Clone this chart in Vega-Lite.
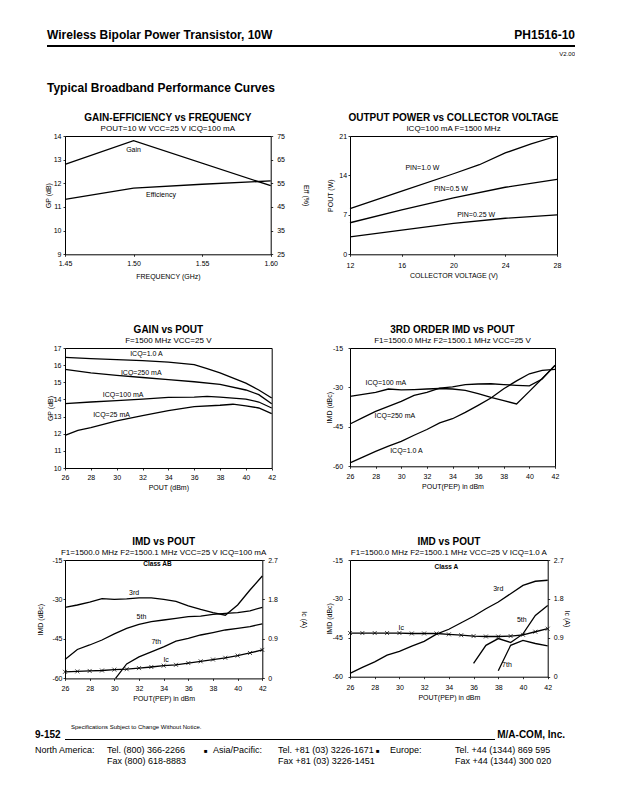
{
"$schema": "https://vega.github.io/schema/vega-lite/v6.json",
"padding": {"left": 35, "top": 0, "right": 0, "bottom": 0},
"background": "white",
"bounds": "flush",
"columns": 4,
"align": "each",
"spacing": {"row": 0, "column": 0},
"concat": [
{"width":12,"height":45,"data":{"values":[]},"mark":"point","view":{"stroke":null}},
{"width":0.001,"height":0.001,"data":{"values":[]},"mark":"point","view":{"stroke":null}},
{"width":0.001,"height":0.001,"data":{"values":[]},"mark":"point","view":{"stroke":null}},
{"width":0.001,"height":0.001,"data":{"values":[]},"mark":"point","view":{"stroke":null}},

{"width":0.001,"height":0.001,"data":{"values":[]},"mark":"point","view":{"stroke":null}},
{"width":18,"height":2,"data":{"values":[]},"mark":"point","view":{"stroke":null,"fill":"#000"},"title":{"text":"Wireless Bipolar Power Transistor, 10W","anchor":"start","fontSize":12,"fontWeight":"bold","offset":3}},
{"width":285,"height":2,"data":{"values":[]},"mark":"point","view":{"stroke":null,"fill":"#000"}},
{"width":225,"height":2,"data":{"values":[]},"mark":"point","view":{"stroke":null,"fill":"#000"},"title":{"text":"PH1516-10","anchor":"end","fontSize":12,"fontWeight":"bold","offset":3}},

{"width":0.001,"height":0.001,"data":{"values":[]},"mark":"point","view":{"stroke":null}},
{"width":18,"height":28,"data":{"values":[]},"mark":"point","view":{"stroke":null},"title":{"text":"Typical Broadband Performance Curves","orient":"bottom","anchor":"start","fontSize":12,"fontWeight":"bold","offset":7.8}},
{"width":0.001,"height":0.001,"data":{"values":[]},"mark":"point","view":{"stroke":null}},
{"width":225,"height":1,"data":{"values":[]},"mark":"point","view":{"stroke":null},"title":{"text":"V2.00","orient":"bottom","anchor":"end","fontSize":6,"fontWeight":"normal","offset":3.4}},

{"width":0.001,"height":60.7,"data":{"values":[]},"mark":"point","view":{"stroke":null}},
{"width":0.001,"height":0.001,"data":{"values":[]},"mark":"point","view":{"stroke":null}},
{"width":0.001,"height":0.001,"data":{"values":[]},"mark":"point","view":{"stroke":null}},
{"width":0.001,"height":0.001,"data":{"values":[]},"mark":"point","view":{"stroke":null}},

{"width":0.001,"height":0.001,"data":{"values":[]},"mark":"point","view":{"stroke":null}},
{"width":0.001,"height":0.001,"data":{"values":[]},"mark":"point","view":{"stroke":null}},
{"width":205.7,"height":118.3,
 "title":{"text":"GAIN-EFFICIENCY vs FREQUENCY","subtitle":"POUT=10 W  VCC=25 V  ICQ=100 mA"},
 "layer":[
  {"layer":[
   {"data":{"name":"gain_freq"},"mark":"line","encoding":{
     "x":{"field":"freq","type":"quantitative","scale":{"domain":[1.45,1.6],"nice":false,"zero":false},"axis":{"values":[1.45,1.5,1.55,1.6],"tickCount":50,"format":".2f","title":"FREQUENCY (GHz)","labelPadding":3.3,"titlePadding":5.7,"labelOverlap":false}},
     "y":{"field":"gain","type":"quantitative","scale":{"domain":[9,14],"nice":false,"zero":false},"axis":{"values":[9,10,11,12,13,14],"tickCount":50,"format":"d","title":"GP (dB)","labelPadding":2,"titlePadding":1.6,"labelOverlap":false}}}},
   {"data":{"name":"gf_labels"},"mark":"text","encoding":{
     "x":{"field":"freq","type":"quantitative"},
     "y":{"field":"gain","type":"quantitative"},
     "text":{"field":"label"}}}
  ]},
  {"data":{"name":"eff_freq"},"mark":"line","encoding":{
    "x":{"field":"freq","type":"quantitative"},
    "y":{"field":"eff","type":"quantitative","scale":{"domain":[25,75],"nice":false,"zero":false},"axis":{"orient":"right","values":[25,35,45,55,65,75],"tickCount":50,"format":"d","title":"Eff (%)","labelPadding":4,"titlePadding":18,"labelOverlap":false}}}}
 ],
 "resolve":{"scale":{"y":"independent"}}},
{"width":207,"height":118.3,
 "title":{"text":"OUTPUT POWER vs COLLECTOR VOLTAGE","subtitle":"ICQ=100 mA  F=1500 MHz"},
 "layer":[
  {"data":{"name":"op"},"mark":"line","encoding":{
    "x":{"field":"vcc","type":"quantitative","scale":{"domain":[12,28],"nice":false,"zero":false},"axis":{"values":[12,16,20,24,28],"tickCount":50,"format":"d","title":"COLLECTOR VOLTAGE (V)","labelPadding":5.3,"titlePadding":3,"labelOverlap":false}},
    "y":{"field":"pout","type":"quantitative","scale":{"domain":[0,21],"nice":false},"axis":{"values":[0,7,14,21],"tickCount":50,"format":"d","title":"POUT (W)","labelPadding":1.4,"titlePadding":5.5,"labelOverlap":false}},
    "detail":{"field":"pin"}}},
  {"data":{"name":"op_labels"},"mark":"text","encoding":{
    "x":{"field":"vcc","type":"quantitative"},
    "y":{"field":"pout","type":"quantitative"},
    "text":{"field":"label"}}}
 ]},

{"width":0.001,"height":92.7,"data":{"values":[]},"mark":"point","view":{"stroke":null}},
{"width":0.001,"height":0.001,"data":{"values":[]},"mark":"point","view":{"stroke":null}},
{"width":0.001,"height":0.001,"data":{"values":[]},"mark":"point","view":{"stroke":null}},
{"width":0.001,"height":0.001,"data":{"values":[]},"mark":"point","view":{"stroke":null}},

{"width":0.001,"height":0.001,"data":{"values":[]},"mark":"point","view":{"stroke":null}},
{"width":0.001,"height":0.001,"data":{"values":[]},"mark":"point","view":{"stroke":null}},
{"width":206.7,"height":120,
 "title":{"text":"GAIN vs POUT","subtitle":"F=1500 MHz  VCC=25 V"},
 "layer":[
  {"data":{"name":"gp"},"mark":"line","encoding":{
    "x":{"field":"pout","type":"quantitative","scale":{"domain":[26,42],"nice":false,"zero":false},"axis":{"values":[26,28,30,32,34,36,38,40,42],"tickCount":50,"format":"d","title":"POUT (dBm)","labelPadding":3.3,"titlePadding":3,"labelOverlap":false}},
    "y":{"field":"gp","type":"quantitative","scale":{"domain":[10,17],"nice":false,"zero":false},"axis":{"values":[10,11,12,13,14,15,16,17],"tickCount":50,"format":"d","title":"GP (dB)","labelPadding":2,"titlePadding":0,"labelOverlap":false}},
    "detail":{"field":"icq"}}},
  {"data":{"name":"gp_labels"},"mark":"text","encoding":{
    "x":{"field":"pout","type":"quantitative"},
    "y":{"field":"gp","type":"quantitative"},
    "text":{"field":"label"}}}
 ]},
{"width":205,"height":118.3,
 "title":{"text":"3RD ORDER IMD vs POUT","subtitle":"F1=1500.0 MHz  F2=1500.1 MHz  VCC=25 V"},
 "layer":[
  {"data":{"name":"imd3"},"mark":"line","encoding":{
    "x":{"field":"pout","type":"quantitative","scale":{"domain":[26,42],"nice":false,"zero":false},"axis":{"values":[26,28,30,32,34,36,38,40,42],"tickCount":50,"format":"d","title":"POUT(PEP) in dBm","labelPadding":4.3,"titlePadding":3,"labelOverlap":false}},
    "y":{"field":"imd","type":"quantitative","scale":{"domain":[-60,-15],"nice":false,"zero":false},"axis":{"values":[-60,-45,-30,-15],"tickCount":50,"labelExpr":"'' + datum.value","title":"IMD (dBc)","labelPadding":5.4,"titlePadding":0,"labelOverlap":false}},
    "detail":{"field":"icq"}}},
  {"data":{"name":"imd3_labels"},"mark":"text","encoding":{
    "x":{"field":"pout","type":"quantitative"},
    "y":{"field":"imd","type":"quantitative"},
    "text":{"field":"label"}}}
 ]},

{"width":0.001,"height":91.6,"data":{"values":[]},"mark":"point","view":{"stroke":null}},
{"width":0.001,"height":0.001,"data":{"values":[]},"mark":"point","view":{"stroke":null}},
{"width":0.001,"height":0.001,"data":{"values":[]},"mark":"point","view":{"stroke":null}},
{"width":0.001,"height":0.001,"data":{"values":[]},"mark":"point","view":{"stroke":null}},

{"width":0.001,"height":0.001,"data":{"values":[]},"mark":"point","view":{"stroke":null}},
{"width":0.001,"height":0.001,"data":{"values":[]},"mark":"point","view":{"stroke":null}},
{"width":197.3,"height":118.4,
 "title":{"text":"IMD vs POUT","subtitle":"F1=1500.0 MHz  F2=1500.1 MHz  VCC=25 V  ICQ=100 mA"},
 "layer":[
  {"layer":[
   {"data":{"name":"ab_imd"},"mark":"line","encoding":{
     "x":{"field":"pout","type":"quantitative","scale":{"domain":[26,42],"nice":false,"zero":false},"axis":{"values":[26,28,30,32,34,36,38,40,42],"tickCount":50,"format":"d","title":"POUT(PEP) in dBm","labelPadding":4.3,"titlePadding":3,"labelOverlap":false}},
     "y":{"field":"imd","type":"quantitative","scale":{"domain":[-60,-15],"nice":false,"zero":false},"axis":{"values":[-60,-45,-30,-15],"tickCount":50,"labelExpr":"'' + datum.value","title":"IMD (dBc)","labelPadding":1,"titlePadding":8.6,"labelOverlap":false}},
     "detail":{"field":"order"}}},
   {"data":{"name":"ab_labels"},"mark":"text","encoding":{
     "x":{"field":"pout","type":"quantitative"},
     "y":{"field":"imd","type":"quantitative"},
     "text":{"field":"label"}}},
   {"data":{"values":[{}]},"mark":{"type":"text","fontWeight":"bold","fontSize":6.5},"encoding":{
     "x":{"datum":33.5,"type":"quantitative"},
     "y":{"datum":-16.7,"type":"quantitative"},
     "text":{"value":"Class AB"}}}
  ]},
  {"data":{"name":"ab_ic"},"mark":{"type":"line","point":{"shape":"M-1,-1L1,1M-1,1L1,-1","filled":false,"size":16,"color":"#000","strokeWidth":0.7}},"encoding":{
    "x":{"field":"pout","type":"quantitative"},
    "y":{"field":"ic","type":"quantitative","scale":{"domain":[0,2.7],"nice":false},"axis":{"orient":"right","values":[0,0.9,1.8,2.7],"tickCount":50,"labelExpr":"datum.value == 0 ? '0' : format(datum.value, '.1f')","title":"Ic (A)","labelPadding":3.4,"titlePadding":23,"labelOverlap":false}}}}
 ],
 "resolve":{"scale":{"y":"independent"}}},
{"width":197.7,"height":116.7,
 "title":{"text":"IMD vs POUT","subtitle":"F1=1500.0 MHz  F2=1500.1 MHz  VCC=25 V  ICQ=1.0 A"},
 "layer":[
  {"layer":[
   {"data":{"name":"a_imd"},"mark":"line","encoding":{
     "x":{"field":"pout","type":"quantitative","scale":{"domain":[26,42],"nice":false,"zero":false},"axis":{"values":[26,28,30,32,34,36,38,40,42],"tickCount":50,"format":"d","title":"POUT(PEP) in dBm","labelPadding":4.3,"titlePadding":3.7,"labelOverlap":false}},
     "y":{"field":"imd","type":"quantitative","scale":{"domain":[-60,-15],"nice":false,"zero":false},"axis":{"values":[-60,-45,-30,-15],"tickCount":50,"labelExpr":"'' + datum.value","title":"IMD (dBc)","labelPadding":5.6,"titlePadding":0,"labelOverlap":false}},
     "detail":{"field":"order"}}},
   {"data":{"name":"a_labels"},"mark":"text","encoding":{
     "x":{"field":"pout","type":"quantitative"},
     "y":{"field":"imd","type":"quantitative"},
     "text":{"field":"label"}}},
   {"data":{"values":[{}]},"mark":{"type":"text","fontWeight":"bold","fontSize":6.5},"encoding":{
     "x":{"datum":33.8,"type":"quantitative"},
     "y":{"datum":-17.8,"type":"quantitative"},
     "text":{"value":"Class A"}}}
  ]},
  {"data":{"name":"a_ic"},"mark":{"type":"line","point":{"shape":"M-1,-1L1,1M-1,1L1,-1","filled":false,"size":16,"color":"#000","strokeWidth":0.7}},"encoding":{
    "x":{"field":"pout","type":"quantitative"},
    "y":{"field":"ic","type":"quantitative","scale":{"domain":[0,2.7],"nice":false},"axis":{"orient":"right","values":[0,0.9,1.8,2.7],"tickCount":50,"labelExpr":"datum.value == 0 ? '0' : format(datum.value, '.1f')","title":"Ic (A)","labelPadding":3.6,"titlePadding":0,"labelOverlap":false}}}}
 ],
 "resolve":{"scale":{"y":"independent"}}},

{"width":0.001,"height":60,"data":{"values":[]},"mark":"point","view":{"stroke":null}},
{"width":0.001,"height":0.001,"data":{"values":[]},"mark":"point","view":{"stroke":null}},
{"width":0.001,"height":0.001,"data":{"values":[]},"mark":"point","view":{"stroke":null}},
{"width":0.001,"height":0.001,"data":{"values":[]},"mark":"point","view":{"stroke":null}},

{"width":12,"height":1,"data":{"values":[]},"mark":"point","view":{"stroke":null},"title":{"text":"9-152","anchor":"start","fontSize":10,"fontWeight":"bold","offset":-1}},
{"width":0.001,"height":0.001,"data":{"values":[]},"mark":"point","view":{"stroke":null}},
{"width":285,"height":1,"data":{"values":[]},"mark":"point","view":{"stroke":null,"fill":"#000"},"title":{"text":"Specifications Subject to Change Without Notice.","anchor":"start","fontSize":6,"fontWeight":"normal","offset":9.3,"dx":6}},
{"width":145,"height":1,"data":{"values":[]},"mark":"point","view":{"stroke":null,"fill":"#000"},"title":{"text":"M/A-COM, Inc.","anchor":"end","fontSize":10,"fontWeight":"bold","offset":-1,"dx":70}},

{"width":12,"height":0.001,"data":{"values":[]},"mark":"point","view":{"stroke":null},"title":{"text":"North America:","orient":"bottom","anchor":"start","fontSize":9,"fontWeight":"normal","offset":6.4}},
{"width":0.001,"height":0.001,"data":{"values":[]},"mark":"point","view":{"stroke":null}},
{"width":285,"height":0.001,"data":{"values":[]},"mark":"point","view":{"stroke":null},"title":{"text":"Tel. (800) 366-2266","subtitle":"Fax (800) 618-8883","orient":"bottom","anchor":"start","fontSize":9,"fontWeight":"normal","subtitleFontSize":9,"subtitlePadding":2,"offset":6.4,"dx":42}},
{"width":225,"height":0.001,"data":{"values":[]},"mark":"point","view":{"stroke":null},"title":{"text":"■","orient":"bottom","anchor":"start","fontSize":6,"fontWeight":"normal","offset":7.9,"dx":26}},

{"width":0.001,"height":0.001,"data":{"values":[]},"mark":"point","view":{"stroke":null}},
{"width":0.001,"height":0.001,"data":{"values":[]},"mark":"point","view":{"stroke":null}},
{"width":285,"height":0.001,"data":{"values":[]},"mark":"point","view":{"stroke":null},"title":{"text":"■","orient":"bottom","anchor":"start","fontSize":6,"fontWeight":"normal","offset":6.9,"dx":139}},
{"width":225,"height":0.001,"data":{"values":[]},"mark":"point","view":{"stroke":null},"title":{"text":"Europe:","orient":"bottom","anchor":"start","fontSize":9,"fontWeight":"normal","offset":5.4,"dx":40}},

{"width":0.001,"height":0.001,"data":{"values":[]},"mark":"point","view":{"stroke":null}},
{"width":0.001,"height":0.001,"data":{"values":[]},"mark":"point","view":{"stroke":null}},
{"width":285,"height":0.001,"data":{"values":[]},"mark":"point","view":{"stroke":null},"title":{"text":"Asia/Pacific:","orient":"bottom","anchor":"start","fontSize":9,"fontWeight":"normal","offset":4.4,"dx":148}},
{"width":225,"height":0.001,"data":{"values":[]},"mark":"point","view":{"stroke":null},"title":{"text":"Tel. +44 (1344) 869 595","subtitle":"Fax +44 (1344) 300 020","orient":"bottom","anchor":"start","fontSize":9,"fontWeight":"normal","subtitleFontSize":9,"subtitlePadding":2,"offset":4.4,"dx":105}},

{"width":0.001,"height":0.001,"data":{"values":[]},"mark":"point","view":{"stroke":null}},
{"width":0.001,"height":0.001,"data":{"values":[]},"mark":"point","view":{"stroke":null}},
{"width":285,"height":0.001,"data":{"values":[]},"mark":"point","view":{"stroke":null},"title":{"text":"Tel. +81 (03) 3226-1671","subtitle":"Fax +81 (03) 3226-1451","orient":"bottom","anchor":"start","fontSize":9,"fontWeight":"normal","subtitleFontSize":9,"subtitlePadding":2,"offset":3.4,"dx":213}},
{"width":0.001,"height":0.001,"data":{"values":[]},"mark":"point","view":{"stroke":null}}
],
"datasets": {
 "gain_freq": [{"freq":1.45,"gain":12.8},{"freq":1.5,"gain":13.8},{"freq":1.6,"gain":11.9}],
 "eff_freq": [{"freq":1.45,"eff":48.2},{"freq":1.5,"eff":53},{"freq":1.55,"eff":54.6},{"freq":1.6,"eff":56}],
 "gf_labels": [{"freq":1.5,"gain":13.42,"label":"Gain"},{"freq":1.52,"gain":11.49,"label":"Efficiency"}],
 "op": [
  {"vcc":12,"pout":8.1,"pin":"1.0 W"},{"vcc":16,"pout":11.2,"pin":"1.0 W"},{"vcc":20,"pout":14.3,"pin":"1.0 W"},{"vcc":22,"pout":15.9,"pin":"1.0 W"},{"vcc":24,"pout":18.0,"pin":"1.0 W"},{"vcc":26,"pout":19.6,"pin":"1.0 W"},{"vcc":28,"pout":21,"pin":"1.0 W"},
  {"vcc":12,"pout":5.6,"pin":"0.5 W"},{"vcc":16,"pout":7.9,"pin":"0.5 W"},{"vcc":20,"pout":10.0,"pin":"0.5 W"},{"vcc":24,"pout":11.9,"pin":"0.5 W"},{"vcc":28,"pout":13.3,"pin":"0.5 W"},
  {"vcc":12,"pout":3.1,"pin":"0.25 W"},{"vcc":16,"pout":4.3,"pin":"0.25 W"},{"vcc":20,"pout":5.5,"pin":"0.25 W"},{"vcc":24,"pout":6.4,"pin":"0.25 W"},{"vcc":28,"pout":7.0,"pin":"0.25 W"}
 ],
 "op_labels": [{"vcc":17.6,"pout":15.3,"label":"PIN=1.0 W"},{"vcc":19.8,"pout":11.65,"label":"PIN=0.5 W"},{"vcc":21.75,"pout":7.0,"label":"PIN=0.25 W"}],
 "gp": [
  {"pout":26,"gp":16.45,"icq":"1.0 A"},{"pout":28,"gp":16.38,"icq":"1.0 A"},{"pout":30,"gp":16.32,"icq":"1.0 A"},{"pout":32,"gp":16.26,"icq":"1.0 A"},{"pout":34,"gp":16.18,"icq":"1.0 A"},{"pout":36,"gp":16.03,"icq":"1.0 A"},{"pout":37,"gp":15.8,"icq":"1.0 A"},{"pout":38,"gp":15.55,"icq":"1.0 A"},{"pout":40,"gp":14.95,"icq":"1.0 A"},{"pout":41,"gp":14.55,"icq":"1.0 A"},{"pout":42,"gp":14.08,"icq":"1.0 A"},
  {"pout":26,"gp":15.75,"icq":"250 mA"},{"pout":28,"gp":15.55,"icq":"250 mA"},{"pout":30,"gp":15.4,"icq":"250 mA"},{"pout":32,"gp":15.28,"icq":"250 mA"},{"pout":34,"gp":15.15,"icq":"250 mA"},{"pout":36,"gp":15.03,"icq":"250 mA"},{"pout":38,"gp":14.88,"icq":"250 mA"},{"pout":40,"gp":14.55,"icq":"250 mA"},{"pout":41,"gp":14.28,"icq":"250 mA"},{"pout":42,"gp":13.75,"icq":"250 mA"},
  {"pout":26,"gp":13.75,"icq":"100 mA"},{"pout":28,"gp":13.85,"icq":"100 mA"},{"pout":30,"gp":13.93,"icq":"100 mA"},{"pout":32,"gp":14.02,"icq":"100 mA"},{"pout":34,"gp":14.12,"icq":"100 mA"},{"pout":36,"gp":14.13,"icq":"100 mA"},{"pout":37,"gp":14.18,"icq":"100 mA"},{"pout":38,"gp":14.14,"icq":"100 mA"},{"pout":40,"gp":14.02,"icq":"100 mA"},{"pout":41,"gp":13.85,"icq":"100 mA"},{"pout":42,"gp":13.5,"icq":"100 mA"},
  {"pout":26,"gp":11.9,"icq":"25 mA"},{"pout":27,"gp":12.2,"icq":"25 mA"},{"pout":28,"gp":12.35,"icq":"25 mA"},{"pout":30,"gp":12.75,"icq":"25 mA"},{"pout":32,"gp":13.05,"icq":"25 mA"},{"pout":34,"gp":13.35,"icq":"25 mA"},{"pout":36,"gp":13.58,"icq":"25 mA"},{"pout":38,"gp":13.66,"icq":"25 mA"},{"pout":39,"gp":13.72,"icq":"25 mA"},{"pout":40,"gp":13.63,"icq":"25 mA"},{"pout":41,"gp":13.5,"icq":"25 mA"},{"pout":42,"gp":13.17,"icq":"25 mA"}
 ],
 "gp_labels": [{"pout":32.3,"gp":16.65,"label":"ICQ=1.0 A"},{"pout":31.9,"gp":15.54,"label":"ICQ=250 mA"},{"pout":30.5,"gp":14.24,"label":"ICQ=100 mA"},{"pout":29.6,"gp":13.1,"label":"ICQ=25 mA"}],
 "imd3": [
  {"pout":26,"imd":-33.4,"icq":"100 mA"},{"pout":27,"imd":-32.6,"icq":"100 mA"},{"pout":28,"imd":-31.9,"icq":"100 mA"},{"pout":29,"imd":-30.6,"icq":"100 mA"},{"pout":30,"imd":-30.9,"icq":"100 mA"},{"pout":31,"imd":-30.8,"icq":"100 mA"},{"pout":32,"imd":-30.6,"icq":"100 mA"},{"pout":33,"imd":-30.4,"icq":"100 mA"},{"pout":34,"imd":-30.6,"icq":"100 mA"},{"pout":35,"imd":-31.1,"icq":"100 mA"},{"pout":36,"imd":-32.4,"icq":"100 mA"},{"pout":37,"imd":-33.8,"icq":"100 mA"},{"pout":38,"imd":-35,"icq":"100 mA"},{"pout":39,"imd":-36.3,"icq":"100 mA"},{"pout":40,"imd":-31.5,"icq":"100 mA"},{"pout":41,"imd":-26.6,"icq":"100 mA"},{"pout":42,"imd":-21.7,"icq":"100 mA"},
  {"pout":26,"imd":-43.9,"icq":"250 mA"},{"pout":27,"imd":-41.5,"icq":"250 mA"},{"pout":28,"imd":-39.1,"icq":"250 mA"},{"pout":29,"imd":-37.2,"icq":"250 mA"},{"pout":30,"imd":-35.3,"icq":"250 mA"},{"pout":31,"imd":-33,"icq":"250 mA"},{"pout":32,"imd":-31.9,"icq":"250 mA"},{"pout":33,"imd":-30.3,"icq":"250 mA"},{"pout":34,"imd":-29.8,"icq":"250 mA"},{"pout":35,"imd":-28.9,"icq":"250 mA"},{"pout":36,"imd":-28.7,"icq":"250 mA"},{"pout":37,"imd":-28.6,"icq":"250 mA"},{"pout":38,"imd":-28.9,"icq":"250 mA"},{"pout":39,"imd":-29.2,"icq":"250 mA"},{"pout":40,"imd":-29.4,"icq":"250 mA"},{"pout":41,"imd":-26.8,"icq":"250 mA"},{"pout":42,"imd":-21.5,"icq":"250 mA"},
  {"pout":26,"imd":-58.7,"icq":"1.0 A"},{"pout":27,"imd":-56.5,"icq":"1.0 A"},{"pout":28,"imd":-54.3,"icq":"1.0 A"},{"pout":29,"imd":-52.3,"icq":"1.0 A"},{"pout":30,"imd":-50.5,"icq":"1.0 A"},{"pout":31,"imd":-48.2,"icq":"1.0 A"},{"pout":32,"imd":-46,"icq":"1.0 A"},{"pout":33,"imd":-43.5,"icq":"1.0 A"},{"pout":34,"imd":-41.9,"icq":"1.0 A"},{"pout":35,"imd":-39.5,"icq":"1.0 A"},{"pout":36,"imd":-36.8,"icq":"1.0 A"},{"pout":37,"imd":-34,"icq":"1.0 A"},{"pout":38,"imd":-30.5,"icq":"1.0 A"},{"pout":39,"imd":-27.5,"icq":"1.0 A"},{"pout":40,"imd":-24.8,"icq":"1.0 A"},{"pout":41,"imd":-23.5,"icq":"1.0 A"},{"pout":42,"imd":-23.1,"icq":"1.0 A"}
 ],
 "imd3_labels": [{"pout":28.8,"imd":-28.3,"label":"ICQ=100 mA"},{"pout":29.5,"imd":-41,"label":"ICQ=250 mA"},{"pout":30.4,"imd":-54.3,"label":"ICQ=1.0 A"}],
 "ab_imd": [
  {"pout":26,"imd":-33,"order":"3rd"},{"pout":27,"imd":-32.1,"order":"3rd"},{"pout":28,"imd":-31,"order":"3rd"},{"pout":29,"imd":-29.7,"order":"3rd"},{"pout":30,"imd":-30,"order":"3rd"},{"pout":31,"imd":-29.8,"order":"3rd"},{"pout":32,"imd":-29.4,"order":"3rd"},{"pout":33,"imd":-29.4,"order":"3rd"},{"pout":34,"imd":-30,"order":"3rd"},{"pout":35,"imd":-30.7,"order":"3rd"},{"pout":36,"imd":-32.4,"order":"3rd"},{"pout":37,"imd":-33.8,"order":"3rd"},{"pout":38,"imd":-35,"order":"3rd"},{"pout":39,"imd":-36,"order":"3rd"},{"pout":40,"imd":-32.1,"order":"3rd"},{"pout":41,"imd":-26.4,"order":"3rd"},{"pout":42,"imd":-21.1,"order":"3rd"},
  {"pout":26,"imd":-52.8,"order":"5th"},{"pout":27,"imd":-49,"order":"5th"},{"pout":28,"imd":-47.3,"order":"5th"},{"pout":29,"imd":-45.4,"order":"5th"},{"pout":30,"imd":-43.1,"order":"5th"},{"pout":31,"imd":-41,"order":"5th"},{"pout":32,"imd":-39.5,"order":"5th"},{"pout":33,"imd":-38.4,"order":"5th"},{"pout":34,"imd":-37.8,"order":"5th"},{"pout":35,"imd":-37.2,"order":"5th"},{"pout":36,"imd":-36.5,"order":"5th"},{"pout":37,"imd":-36.3,"order":"5th"},{"pout":38,"imd":-35.7,"order":"5th"},{"pout":39,"imd":-35.3,"order":"5th"},{"pout":40,"imd":-35,"order":"5th"},{"pout":41,"imd":-34.3,"order":"5th"},{"pout":42,"imd":-33,"order":"5th"},
  {"pout":30.1,"imd":-60,"order":"7th"},{"pout":31,"imd":-54.5,"order":"7th"},{"pout":32,"imd":-51.8,"order":"7th"},{"pout":33,"imd":-49.9,"order":"7th"},{"pout":34,"imd":-48,"order":"7th"},{"pout":35,"imd":-45.8,"order":"7th"},{"pout":36,"imd":-44.8,"order":"7th"},{"pout":37,"imd":-43.5,"order":"7th"},{"pout":38,"imd":-42.6,"order":"7th"},{"pout":39,"imd":-41.6,"order":"7th"},{"pout":40,"imd":-41,"order":"7th"},{"pout":41,"imd":-40.3,"order":"7th"},{"pout":42,"imd":-39.3,"order":"7th"}
 ],
 "ab_ic": [
  {"pout":26,"ic":0.15},{"pout":27,"ic":0.16},{"pout":28,"ic":0.17},{"pout":29,"ic":0.18},{"pout":30,"ic":0.2},{"pout":31,"ic":0.21},{"pout":32,"ic":0.235},{"pout":33,"ic":0.26},{"pout":34,"ic":0.29},{"pout":35,"ic":0.31},{"pout":36,"ic":0.35},{"pout":37,"ic":0.39},{"pout":38,"ic":0.43},{"pout":39,"ic":0.47},{"pout":40,"ic":0.52},{"pout":41,"ic":0.58},{"pout":42,"ic":0.65}
 ],
 "ab_labels": [{"pout":31.6,"imd":-27.7,"label":"3rd"},{"pout":32.2,"imd":-36.5,"label":"5th"},{"pout":33.4,"imd":-46,"label":"7th"},{"pout":34.2,"imd":-53,"label":"Ic"}],
 "a_imd": [
  {"pout":26,"imd":-58.7,"order":"3rd"},{"pout":27,"imd":-56.4,"order":"3rd"},{"pout":28,"imd":-54.3,"order":"3rd"},{"pout":29,"imd":-51.7,"order":"3rd"},{"pout":30,"imd":-50.2,"order":"3rd"},{"pout":31,"imd":-48.2,"order":"3rd"},{"pout":32,"imd":-46.4,"order":"3rd"},{"pout":33,"imd":-43.6,"order":"3rd"},{"pout":34,"imd":-41.7,"order":"3rd"},{"pout":35,"imd":-39.2,"order":"3rd"},{"pout":36,"imd":-36.7,"order":"3rd"},{"pout":37,"imd":-33.8,"order":"3rd"},{"pout":38,"imd":-31.2,"order":"3rd"},{"pout":39,"imd":-28,"order":"3rd"},{"pout":40,"imd":-24.8,"order":"3rd"},{"pout":41,"imd":-23.2,"order":"3rd"},{"pout":42,"imd":-22.8,"order":"3rd"},
  {"pout":36,"imd":-54.9,"order":"5th"},{"pout":37,"imd":-47.9,"order":"5th"},{"pout":38,"imd":-45.3,"order":"5th"},{"pout":39,"imd":-46.8,"order":"5th"},{"pout":40,"imd":-43.5,"order":"5th"},{"pout":41,"imd":-36.4,"order":"5th"},{"pout":42,"imd":-32.5,"order":"5th"},
  {"pout":38,"imd":-57.7,"order":"7th"},{"pout":39,"imd":-47.9,"order":"7th"},{"pout":40,"imd":-46,"order":"7th"},{"pout":41,"imd":-47.2,"order":"7th"},{"pout":42,"imd":-48.1,"order":"7th"}
 ],
 "a_ic": [
  {"pout":26,"ic":1.01},{"pout":27,"ic":1.01},{"pout":28,"ic":1.01},{"pout":29,"ic":1.01},{"pout":30,"ic":1.01},{"pout":31,"ic":1.0},{"pout":32,"ic":1.0},{"pout":33,"ic":1.0},{"pout":34,"ic":0.98},{"pout":35,"ic":0.96},{"pout":36,"ic":0.94},{"pout":37,"ic":0.93},{"pout":38,"ic":0.93},{"pout":39,"ic":0.94},{"pout":40,"ic":0.97},{"pout":41,"ic":1.04},{"pout":42,"ic":1.11}
 ],
 "a_labels": [{"pout":30.15,"imd":-41.1,"label":"Ic"},{"pout":38.0,"imd":-26.1,"label":"3rd"},{"pout":39.9,"imd":-38.3,"label":"5th"},{"pout":38.7,"imd":-55.5,"label":"7th"}]
},
"config": {
 "font": "Liberation Sans",
 "view": {"stroke": "#000", "strokeWidth": 1},
 "axis": {"domain": false, "grid": false, "labelFont": "Liberation Sans", "labelFontSize": 7, "labelColor": "#000", "labelFlush": false, "labelOverlap": false, "titleFont": "Liberation Sans", "titleFontSize": 7, "titleFontWeight": "normal", "titleColor": "#000", "tickColor": "#000", "tickSize": 2, "tickWidth": 0.8},
 "title": {"font": "Liberation Sans", "fontSize": 10, "fontWeight": "bold", "color": "#000", "subtitleFont": "Liberation Sans", "subtitleFontSize": 8, "subtitleColor": "#000", "frame": "group", "offset": -1, "subtitlePadding": 2},
 "line": {"color": "#000", "strokeWidth": 1.3},
 "text": {"font": "Liberation Sans", "fontSize": 7, "color": "#000"}
}
}
